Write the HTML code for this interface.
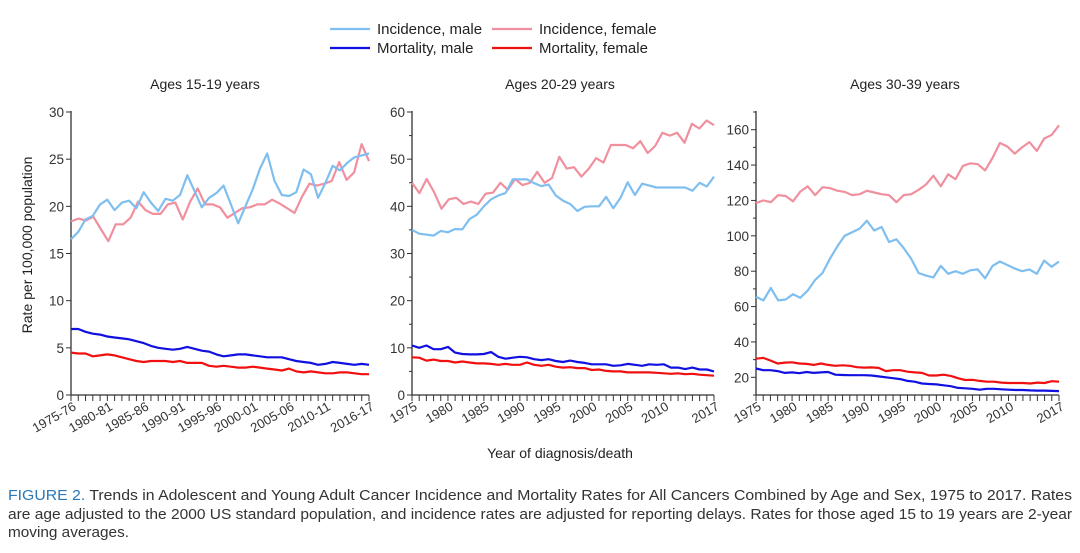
<!DOCTYPE html>
<html><head><meta charset="utf-8"><style>
html,body{margin:0;padding:0;background:#fff;}
svg{display:block;font-family:"Liberation Sans",Arial,sans-serif;}
</style></head><body>
<svg id="s" width="1080" height="553" viewBox="0 0 1080 553" xmlns="http://www.w3.org/2000/svg">
<rect width="1080" height="553" fill="#fff"/>
<g font-size="15" fill="#222">
<line x1="330" y1="29" x2="370" y2="29" stroke="#7fbff0" stroke-width="2.2"/>
<text x="377" y="34">Incidence, male</text>
<line x1="492" y1="29" x2="532" y2="29" stroke="#f0909e" stroke-width="2.2"/>
<text x="539" y="34">Incidence, female</text>
<line x1="330" y1="48" x2="370" y2="48" stroke="#1010e0" stroke-width="2.2"/>
<text x="377" y="53">Mortality, male</text>
<line x1="492" y1="48" x2="532" y2="48" stroke="#f01010" stroke-width="2.2"/>
<text x="539" y="53">Mortality, female</text>
</g>
<g font-size="14" fill="#222" text-anchor="middle">
<text x="205" y="89">Ages 15-19 years</text>
<text x="560" y="89">Ages 20-29 years</text>
<text x="905" y="89">Ages 30-39 years</text>
<text x="560" y="458">Year of diagnosis/death</text>
<text transform="translate(32,245) rotate(-90)">Rate per 100,000 population</text>
</g>
<g id="charts"></g>
<g font-size="14.5" fill="#333">
<text x="8" y="500" textLength="1064" lengthAdjust="spacingAndGlyphs"><tspan fill="#2a78b8">FIGURE 2.</tspan> Trends in Adolescent and Young Adult Cancer Incidence and Mortality Rates for All Cancers Combined by Age and Sex, 1975 to 2017. Rates</text>
<text x="8" y="519" textLength="1064" lengthAdjust="spacingAndGlyphs">are age adjusted to the 2000 US standard population, and incidence rates are adjusted for reporting delays. Rates for those aged 15 to 19 years are 2-year</text>
<text x="8" y="537" textLength="121" lengthAdjust="spacingAndGlyphs">moving averages.</text>
</g>
</svg>
<script>
var NS="http://www.w3.org/2000/svg",G=document.getElementById("charts");
function el(t,a,txt){var e=document.createElementNS(NS,t);for(var k in a)e.setAttribute(k,a[k]);if(txt!=null)e.textContent=txt;G.appendChild(e);return e;}
var C={im:"#7fbff0",if_:"#f0909e",mm:"#1010e0",mf:"#f01010"};
function panel(p){
 var yb=395,yt=112,x0=p.x0,x1=p.x1,n=p.n;
 function Y(v){return yb-(v-p.ymin)/(p.ymax-p.ymin)*(yb-yt);}
 function X(i){return x0+i*(x1-x0)/(n-1);}
 el("line",{x1:x0,y1:yt-1,x2:x0,y2:yb,stroke:"#333","stroke-width":1.3});
 el("line",{x1:x0,y1:yb,x2:x1,y2:yb,stroke:"#333","stroke-width":1.3});
 for(var v=p.ymin;v<=p.ymax+1e-9;v+=p.minor){var maj=(Math.round(v)%p.major)===0;
  var y=Y(v);el("line",{x1:x0-(maj?5:3),y1:y,x2:x0,y2:y,stroke:"#333","stroke-width":1});
  if(maj)el("text",{x:x0-7,y:y+5,"font-size":13.5,fill:"#333","text-anchor":"end"},String(v));}
 for(var i=0;i<n;i++){el("line",{x1:X(i),y1:yb,x2:X(i),y2:yb+6,stroke:"#333","stroke-width":1});}
 p.labels.forEach(function(l){var x=X(l[0]);el("text",{transform:"translate("+(x+6)+","+(yb+14)+") rotate(-30)","font-size":13,fill:"#333","text-anchor":"end"},l[1]);});
 [["if_",p.if_],["im",p.im],["mf",p.mf],["mm",p.mm]].forEach(function(s){var d=s[1],pts=[];
  for(var i=0;i<d.length;i++){pts.push((x0+i*(x1-x0)/(d.length-1)).toFixed(1)+","+Y(d[i]).toFixed(1));}
  el("polyline",{points:pts.join(" "),fill:"none",stroke:C[s[0]],"stroke-width":2.2,"stroke-linejoin":"round"});});
}
panel({x0:71,x1:369,n:42,ymin:0,ymax:30,major:5,minor:5,
 labels:[[0,"1975-76"],[5,"1980-81"],[10,"1985-86"],[15,"1990-91"],[20,"1995-96"],[25,"2000-01"],[30,"2005-06"],[35,"2010-11"],[41,"2016-17"]],
 im:[16.5,17.3,18.6,19,20.2,20.7,19.6,20.4,20.6,19.8,21.5,20.4,19.5,20.8,20.6,21.2,23.3,21.6,19.9,20.9,21.4,22.2,20.2,18.2,20.0,21.8,24,25.6,22.7,21.2,21.1,21.5,23.9,23.4,20.9,22.5,24.3,23.8,24.6,25.2,25.4,25.6],
 if_:[18.4,18.7,18.5,18.9,17.6,16.3,18.1,18.1,18.8,20.5,19.6,19.2,19.2,20.2,20.4,18.6,20.5,21.9,20.2,20.2,19.9,18.8,19.3,19.8,19.9,20.2,20.2,20.7,20.3,19.8,19.3,21.0,22.4,22.2,22.4,22.7,24.7,22.8,23.6,26.6,24.8],
 mm:[7.0,7.0,6.7,6.5,6.4,6.2,6.1,6.0,5.9,5.7,5.5,5.2,5.0,4.9,4.8,4.9,5.1,4.9,4.7,4.6,4.3,4.1,4.2,4.3,4.3,4.2,4.1,4.0,4.0,4.0,3.8,3.6,3.5,3.4,3.2,3.3,3.5,3.4,3.3,3.2,3.3,3.2],
 mf:[4.5,4.4,4.4,4.1,4.2,4.3,4.2,4.0,3.8,3.6,3.5,3.6,3.6,3.6,3.5,3.6,3.4,3.4,3.4,3.1,3.0,3.1,3.0,2.9,2.9,3.0,2.9,2.8,2.7,2.6,2.8,2.5,2.4,2.5,2.4,2.3,2.3,2.4,2.4,2.3,2.2,2.2]});
panel({x0:412,x1:714,n:43,ymin:0,ymax:60,major:10,minor:5,
 labels:[[0,"1975"],[5,"1980"],[10,"1985"],[15,"1990"],[20,"1995"],[25,"2000"],[30,"2005"],[35,"2010"],[42,"2017"]],
 im:[35,34.2,34,33.8,34.8,34.5,35.2,35.1,37.3,38.2,40,41.5,42.3,42.8,45.7,45.7,45.7,44.9,44.3,44.6,42.3,41.2,40.5,39,39.9,40,40,42,39.6,41.8,45.1,42.4,44.8,44.4,44,44,44,44,44,43.3,45,44.2,46.3],
 if_:[45,42.8,45.8,43,39.5,41.5,41.8,40.5,41,40.5,42.7,42.9,45,43.5,45.8,44.5,45,47.3,45,46,50.5,48,48.3,46.3,48,50.2,49.3,53,53,53,52.3,53.8,51.3,52.8,55.6,55,55.6,53.5,57.5,56.5,58.2,57.2],
 mm:[10.5,10,10.5,9.7,9.7,10.2,9,8.7,8.6,8.6,8.7,9.1,8.1,7.7,7.9,8.1,8,7.6,7.4,7.6,7.2,7,7.3,7,6.8,6.5,6.5,6.5,6.2,6.3,6.6,6.4,6.2,6.5,6.4,6.5,5.8,5.8,5.5,5.8,5.4,5.4,5.0],
 mf:[8,7.9,7.3,7.5,7.2,7.2,6.9,7.1,6.9,6.7,6.7,6.6,6.4,6.6,6.4,6.4,6.9,6.4,6.2,6.4,6,5.8,5.9,5.7,5.7,5.3,5.4,5.1,5,5,4.8,4.8,4.8,4.8,4.7,4.6,4.5,4.6,4.4,4.5,4.3,4.2,4.1]});
panel({x0:756,x1:1059,n:43,ymin:10,ymax:170,major:20,minor:10,
 labels:[[0,"1975"],[5,"1980"],[10,"1985"],[15,"1990"],[20,"1995"],[25,"2000"],[30,"2005"],[35,"2010"],[42,"2017"]],
 im:[65.5,63.5,70.5,63.5,64,67,65,69,75,79,87,94,100,102,104,108.5,103,105,96.5,98,93,87,79,77.5,76.5,83,78.5,80,78.5,80.5,81,76,83,85.5,83.5,81.5,80,81,78.5,86,82.5,85.5],
 if_:[118.5,120,119,123,122.5,119.5,125,128,123,127.5,127,125.5,124.8,123,123.5,125.5,124.5,123.5,123,119,123,123.5,126,129,134,128,134.8,132,139.5,141,140.5,137,144,152.5,150.5,146.5,150,153,148,155,157,162.5],
 mm:[25,24,24,23.5,22.5,22.8,22.3,23,22.5,22.8,23,21.5,21.3,21.2,21.2,21.2,21,20.5,20,19.5,19,18,17.5,16.5,16.2,16,15.5,15,14,13.8,13.5,13,13.5,13.5,13.2,13,12.8,12.8,12.6,12.5,12.5,12.3,12.2],
 mf:[30.5,31,29.5,27.8,28.3,28.5,27.8,27.6,27,27.8,27,26.5,26.8,26.5,25.7,25.5,25.6,25.3,23.5,24,24,23.2,22.8,22.5,21,21,21.5,20.8,19.5,18.5,18.6,18,17.5,17.5,17,16.8,16.8,16.8,16.5,17,16.8,17.8,17.5]});
</script>
</body></html>
